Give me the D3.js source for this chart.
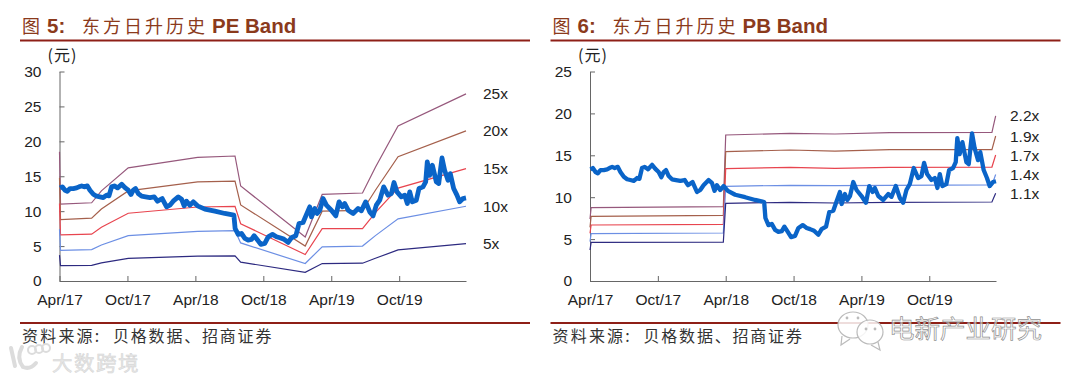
<!DOCTYPE html>
<html>
<head>
<meta charset="utf-8">
<script src="https://cdn.jsdelivr.net/npm/d3@7"></script>
<style>
  html, body { margin: 0; padding: 0; background: #fff; }
  svg { display: block; }
  text { font-family: "Liberation Sans", Arial, sans-serif; }
  .cjk { font-family: "Noto Sans CJK SC", sans-serif; }
</style>
</head>
<body>
<div id="chart-container"></div>
<script>
// x is months since Apr/17
const tickMonths = [0, 6, 12, 18, 24, 30];
const tickLabels = ["Apr/17", "Oct/17", "Apr/18", "Oct/18", "Apr/19", "Oct/19"];
const lastMonth = 35.9;

// Share price, same in both charts
const priceMonths = [0.04, 0.25, 0.49, 0.69, 0.93, 1.22, 1.51, 1.72, 1.96, 2.19, 2.46, 2.69, 2.99, 3.28, 3.57, 3.87, 4.16, 4.37, 4.6, 4.84,
  5.13, 5.49, 5.78, 6.07, 6.31, 6.51, 6.72, 6.96, 7.25, 7.6, 7.99, 8.37, 8.66, 9.07, 9.46, 9.75, 10.04, 10.49, 10.78, 11.01,
  11.22, 11.51, 11.81, 12.19, 12.84, 13.72, 14.6, 15.4, 15.51, 15.78, 16.07, 16.37, 16.66, 16.96, 17.19, 17.49, 17.78, 18.13, 18.43, 18.81,
  19.16, 19.46, 19.81, 20.19, 20.48, 20.87, 21.16, 21.51, 21.72, 22.1, 22.25, 22.54, 22.75, 22.99, 23.28, 23.57, 24.01, 24.4, 24.69, 24.99,
  25.19, 25.49, 25.93, 26.37, 26.66, 27.04, 27.4, 27.69, 27.98, 28.28, 28.63, 29.01, 29.31, 29.54, 29.81, 30.19, 30.49, 30.72, 30.93, 31.16,
  31.51, 31.75, 32.1, 32.34, 32.48, 32.69, 32.93, 33.28, 33.49, 33.78, 34.01, 34.31, 34.51, 34.81, 35.1, 35.34, 35.63, 35.9];
const priceValues = [13.33, 13.48, 13.0, 12.86, 13.24, 13.24, 13.33, 13.48, 13.62, 13.48, 13.62, 13.0, 12.43, 12.14, 12.05, 11.95, 12.29, 12.19, 13.48, 13.62,
  13.33, 13.86, 13.38, 13.0, 12.38, 13.0, 13.24, 12.52, 12.14, 12.05, 11.95, 12.05, 11.43, 11.81, 10.62, 10.86, 11.43, 12.05, 11.71, 10.76,
  11.43, 10.86, 11.33, 10.76, 10.29, 10.0, 9.67, 9.43, 7.52, 6.67, 6.81, 6.1, 5.86, 5.95, 6.48, 5.86, 5.24, 5.38, 6.33, 6.67,
  6.33, 6.19, 6.0, 5.52, 6.19, 6.48, 8.24, 8.38, 9.19, 10.62, 9.19, 10.38, 9.67, 10.14, 11.81, 10.86, 10.14, 9.33, 11.33, 10.62,
  11.1, 10.14, 9.67, 10.38, 10.05, 11.33, 9.9, 9.33, 10.86, 11.57, 13.48, 12.29, 12.52, 14.1, 12.76, 12.05, 12.29, 11.1, 12.76, 11.33,
  11.57, 13.24, 13.48, 14.19, 17.05, 15.14, 16.57, 14.19, 13.95, 17.62, 15.86, 14.43, 15.38, 13.24, 12.29, 11.33, 11.81, 11.9];

// PE bands
const peMonths = [0, 0.09, 2.84, 3.7, 6.07, 12.2, 15.5, 16.0, 21.7, 23.2, 26.76, 27.9, 29.9, 35.9];
const pe25 = [18.5, 11.0, 11.2, 12.9, 16.2, 17.7, 17.9, 13.6, 6.3, 12.4, 12.6, 16.3, 22.2, 26.8];
const pe20 = [14.8, 8.8, 9.0, 10.3, 12.9, 14.2, 14.3, 10.9, 5.0, 10.0, 10.1, 13.0, 17.8, 21.5];
const pe15 = [11.1, 6.6, 6.7, 7.7, 9.7, 10.6, 10.7, 8.2, 3.8, 7.5, 7.5, 9.8, 13.3, 16.1];
const pe10 = [7.4, 4.4, 4.5, 5.15, 6.5, 7.1, 7.2, 5.45, 2.5, 4.9, 5.0, 6.5, 8.9, 10.7];
const pe5 = [3.7, 2.2, 2.25, 2.6, 3.25, 3.55, 3.6, 2.7, 1.25, 2.5, 2.55, 3.25, 4.45, 5.35];
const peNames = ["25x", "20x", "15x", "10x", "5x"];

// PB bands
const pbMonths = [0, 0.1, 11.79, 12.0, 17.7, 21.66, 26.5, 35.54, 35.87];
const pb22 = [7.4, 8.75, 8.87, 17.42, 17.62, 17.54, 17.7, 17.74, 19.7];
const pb19 = [6.4, 7.72, 7.84, 15.43, 15.63, 15.51, 15.67, 15.67, 17.3];
const pb17 = [5.7, 6.68, 6.76, 13.4, 13.56, 13.44, 13.56, 13.6, 15.04];
const pb14 = [4.7, 5.65, 5.73, 11.3, 11.42, 11.38, 11.42, 11.46, 12.7];
const pb11 = [3.7, 4.61, 4.65, 9.27, 9.39, 9.31, 9.39, 9.43, 10.46];
const pbNames = ["2.2x", "1.9x", "1.7x", "1.4x", "1.1x"];

const bandColors = ["#96587c", "#a5604c", "#e8454f", "#6c8fe4", "#2d2a80"];
const titleColor = "#8b3a1c";
const ruleColor = "#8e1f17";

const svg = d3.select("#chart-container").append("svg")
  .attr("width", 1080)
  .attr("height", 376);

function drawPanel(p) {
  const x = d3.scaleLinear().domain([0, lastMonth]).range([p.left, p.right]);
  const y = d3.scaleLinear().domain([0, p.yMax]).range([281, 71.5]);
  const line = d3.line().x(d => x(d[0])).y(d => y(d[1]));

  // Title
  svg.append("text").attr("class", "cjk").attr("x", p.ox + 22).attr("y", 33)
    .style("font-size", "18px").attr("fill", titleColor).text("图");
  svg.append("text").attr("x", p.ox + 47).attr("y", 33)
    .style("font-size", "20.5px").style("font-weight", "bold").attr("fill", titleColor).text(p.num + ":");
  svg.append("text").attr("class", "cjk").attr("x", p.ox + 82).attr("y", 33)
    .style("font-size", "18px").style("letter-spacing", "3px").attr("fill", titleColor).text("东方日升历史");
  svg.append("text").attr("x", p.ox + 212).attr("y", 33)
    .style("font-size", "20.5px").style("font-weight", "bold").attr("fill", titleColor).text(p.name);

  // Rules and source
  [40.5, 323].forEach(ry => {
    svg.append("line")
      .attr("x1", p.ox + 20).attr("x2", p.ox + 530)
      .attr("y1", ry).attr("y2", ry)
      .attr("stroke", ruleColor).attr("stroke-width", 2);
  });
  svg.append("text").attr("class", "cjk").attr("x", p.ox + 22).attr("y", 342)
    .style("font-size", "16px").style("letter-spacing", "2.2px").attr("fill", "#333").text("资料来源:");
  svg.append("text").attr("class", "cjk").attr("x", p.ox + 113).attr("y", 342)
    .style("font-size", "16px").style("letter-spacing", "1.8px").attr("fill", "#333").text("贝格数据、招商证券");

  svg.append("text").attr("class", "cjk").attr("x", p.left - 12).attr("y", 61)
    .style("font-size", "16px").style("letter-spacing", "1px").attr("fill", "#222").text("(元)");

  // Axes
  const axisX = svg.append("g")
    .attr("transform", `translate(0,${y(0)})`)
    .call(d3.axisBottom(x).tickValues(tickMonths)
      .tickFormat((d, i) => tickLabels[i])
      .tickSizeInner(-5).tickSizeOuter(0).tickPadding(13));
  const axisY = svg.append("g")
    .attr("transform", `translate(${p.left},0)`)
    .call(d3.axisLeft(y).tickValues(p.yTicks)
      .tickSizeInner(-5).tickSizeOuter(0).tickPadding(18));
  [axisX, axisY].forEach(a => {
    a.selectAll("path, line").attr("stroke", "#666");
    a.selectAll("text").attr("fill", "#222")
      .style("font-size", "15.5px")
      .style("font-family", '"Liberation Sans", Arial, sans-serif');
  });

  // Bands
  p.bands.forEach((vals, i) => {
    svg.append("path")
      .datum(p.months.map((m, j) => [m, vals[j]]))
      .attr("fill", "none")
      .attr("stroke", bandColors[i])
      .attr("stroke-width", 1.2)
      .attr("d", line);
    svg.append("text")
      .attr("x", p.right + p.labelGap)
      .attr("y", y(vals[vals.length - 1]))
      .attr("dy", "0.36em")
      .style("font-size", "15.5px")
      .attr("fill", "#222")
      .text(p.names[i]);
  });

  // Price
  svg.append("path")
    .datum(priceMonths.map((m, j) => [m, priceValues[j]]))
    .attr("fill", "none")
    .attr("stroke", "#0a64c8")
    .attr("stroke-width", p.priceWidth)
    .attr("stroke-linejoin", "round")
    .attr("d", line);
}

drawPanel({
  ox: 0, left: 59.5, right: 466, yMax: 30, yTicks: [0, 5, 10, 15, 20, 25, 30],
  num: "5", name: "PE Band", months: peMonths, bands: [pe25, pe20, pe15, pe10, pe5],
  names: peNames, labelGap: 17, priceWidth: 4.8
});
drawPanel({
  ox: 530.5, left: 590, right: 996, yMax: 25, yTicks: [0, 5, 10, 15, 20, 25],
  num: "6", name: "PB Band", months: pbMonths, bands: [pb22, pb19, pb17, pb14, pb11],
  names: pbNames, labelGap: 14, priceWidth: 4.3
});

// Watermarks
const mark = svg.append("g");
mark.append("text").attr("class", "cjk").attr("x", 52).attr("y", 371)
  .style("font-size", "20.5px").style("letter-spacing", "1.5px")
  .attr("fill", "#e6e6e6").attr("stroke", "#d4d4d4").attr("stroke-width", 0.5)
  .text("大数跨境");
mark.selectAll("circle.logo")
  .data([[32, 350, 4], [39, 349, 4], [46, 348, 4]])
  .join("circle")
  .attr("class", "logo")
  .attr("cx", d => d[0]).attr("cy", d => d[1]).attr("r", d => d[2])
  .attr("fill", "none").attr("stroke", "#dcdcdc").attr("stroke-width", 2);
mark.append("path")
  .attr("d", "M11 348 L15 366 M22 347 Q16 358 23 367 Q30 370 36 363")
  .attr("fill", "none").attr("stroke", "#dcdcdc").attr("stroke-width", 4).attr("stroke-linecap", "round");

mark.append("text").attr("class", "cjk").attr("x", 889).attr("y", 338)
  .style("font-size", "25.5px").attr("fill", "#fff").attr("fill-opacity", 0.6)
  .attr("stroke", "#8f8f8f").attr("stroke-width", 0.7)
  .text("电新产业研究");

// WeChat bubbles with tails and eyes
mark.append("path")
  .attr("d", "M842 336 L841 345 L850 339")
  .attr("fill", "#fff").attr("stroke", "#bbb").attr("stroke-width", 1.2);
mark.append("path")
  .attr("d", "M878 342 L880 350 L871 345")
  .attr("fill", "#fff").attr("stroke", "#bbb").attr("stroke-width", 1.2);
mark.selectAll("ellipse.bubble")
  .data([[853, 325, 15, 13], [870, 332, 13, 12]])
  .join("ellipse")
  .attr("class", "bubble")
  .attr("cx", d => d[0]).attr("cy", d => d[1]).attr("rx", d => d[2]).attr("ry", d => d[3])
  .attr("fill", "#fff").attr("fill-opacity", 0.85)
  .attr("stroke", "#bbb").attr("stroke-width", 1.2);
mark.selectAll("circle.eye")
  .data([[847, 318], [858, 318], [866, 329], [875, 329]])
  .join("circle")
  .attr("class", "eye")
  .attr("cx", d => d[0]).attr("cy", d => d[1]).attr("r", 1.4)
  .attr("fill", "#bbb");
</script>
</body>
</html>
